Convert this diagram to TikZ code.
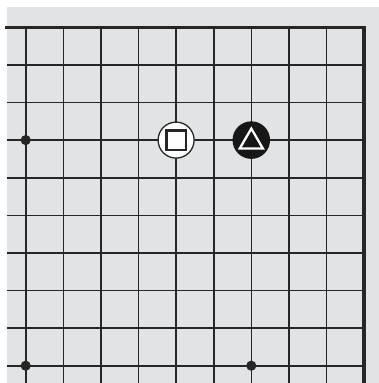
\documentclass[tikz,border=0pt]{standalone}
\usetikzlibrary{calc}
\definecolor{boardbg}{HTML}{E2E3E5}
\definecolor{gridcol}{HTML}{262626}
\tikzset{
  gridline/.style={draw=gridcol, line width=1.6pt},
  edgeline/.style={draw=gridcol, line width=3.3pt, line cap=rect, line join=miter},
  hoshi/.style={circle, fill=gridcol, inner sep=0pt, minimum size=10.2pt},
  whitestone/.style={circle, fill=white, draw=gridcol, line width=1.3pt, inner sep=0pt, minimum size=36pt},
  blackstone/.style={circle, fill=gridcol!60!black, draw=gridcol!60!black, line width=1pt, inner sep=0pt, minimum size=36.5pt},
}
\begin{document}
\begin{tikzpicture}[x=1pt,y=-1pt]
\useasboundingbox (0,0) rectangle (379,383);
\fill[white] (0,0) rectangle (379,383);
\fill[boardbg] (7,7) rectangle (379,383);
% vertical grid lines
\foreach \i in {0,...,8} {
  \draw[gridline] ({25.7+37.6*\i},27.3) -- ({25.7+37.6*\i},383);
}
% horizontal grid lines
\foreach \j in {1,...,9} {
  \draw[gridline] (7,{27.3+37.6*\j}) -- (364.1,{27.3+37.6*\j});
}
% board edges (top and right)
\draw[edgeline] (7,27.3) -- (364.1,27.3) -- (364.1,383);
% star points
\node[hoshi] (h1) at (25.7,140.1) {};
\node[hoshi] (h2) at (25.7,365.7) {};
\node[hoshi] (h3) at (251.3,365.7) {};
% stones
\node[whitestone] (w) at (176.1,140.1) {};
\node[blackstone] (b) at (251.3,140.1) {};
% markers
\draw[draw=gridcol, line width=2.3pt, fill=white] ($(w)+(-9.6,-9.6)$) rectangle ($(w)+(9.6,9.6)$);
\draw[draw=white, line width=2.3pt, line join=miter] ($(b)+(0,-11.5)$) -- ($(b)+(11.5,8.3)$) -- ($(b)+(-11.5,8.3)$) -- cycle;
\end{tikzpicture}
\end{document}
